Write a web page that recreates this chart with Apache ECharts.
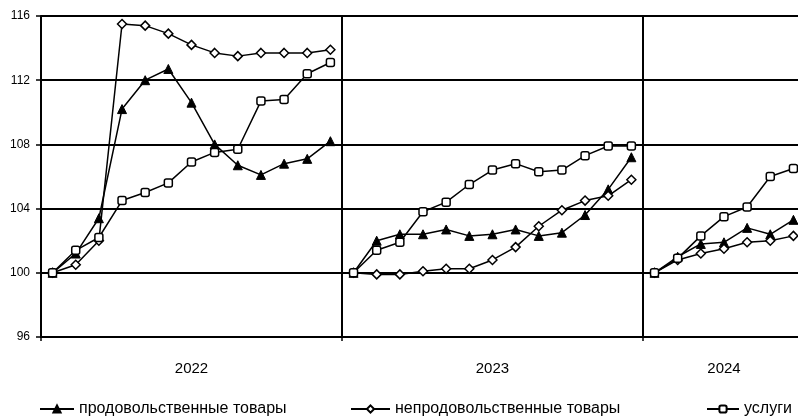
<!DOCTYPE html>
<html>
<head>
<meta charset="utf-8">
<script src="https://cdn.jsdelivr.net/npm/echarts@6/dist/echarts.min.js"></script>
<style>
html,body{margin:0;padding:0;background:#fff;}
#chart{width:798px;height:417px;}
</style>
</head>
<body>
<div id="chart"></div>
<script>
// Years and number of points per year section (December of previous year = 100, then months)
const years = ['2022', '2023', '2024'];
const pointsPerYear = [13, 13, 7];

// продовольственные товары
const food2022 = [100, 101.2, 103.4, 110.2, 112.0, 112.7, 110.6, 108.0, 106.7, 106.1, 106.8, 107.1, 108.2];
const food2023 = [100, 102.0, 102.4, 102.4, 102.7, 102.3, 102.4, 102.7, 102.3, 102.5, 103.6, 105.2, 107.2];
const food2024 = [100, 101.0, 101.8, 101.9, 102.8, 102.4, 103.3];

// непродовольственные товары
const nonfood2022 = [100, 100.5, 102.0, 115.5, 115.4, 114.9, 114.2, 113.7, 113.5, 113.7, 113.7, 113.7, 113.9];
const nonfood2023 = [100, 99.9, 99.9, 100.1, 100.25, 100.25, 100.8, 101.6, 102.9, 103.9, 104.5, 104.8, 105.8];
const nonfood2024 = [100, 100.8, 101.2, 101.5, 101.9, 102.0, 102.3];

// услуги
const serv2022 = [100, 101.4, 102.2, 104.5, 105.0, 105.6, 106.9, 107.5, 107.7, 110.7, 110.8, 112.4, 113.1];
const serv2023 = [100, 101.4, 101.9, 103.8, 104.4, 105.5, 106.4, 106.8, 106.3, 106.4, 107.3, 107.9, 107.9];
const serv2024 = [100, 100.9, 102.3, 103.5, 104.1, 106.0, 106.5];

const seriesNames = ['продовольственные товары', 'непродовольственные товары', 'услуги'];
const yTicks = [96, 100, 104, 108, 112, 116];

// build categories
const categories = [];
const sectionStart = [];
const sectionCenter = [];
years.forEach((y, k) => {
  sectionStart.push(categories.length);
  sectionCenter.push(categories.length + Math.floor(pointsPerYear[k] / 2));
  for (let m = 0; m < pointsPerYear[k]; m++) categories.push(y + ':' + m);
});
const total = categories.length;

function place(values, k) {
  const arr = new Array(total).fill(null);
  values.forEach((v, i) => { arr[sectionStart[k] + i] = v; });
  return arr;
}

const styles = [
  { symbol: 'triangle', symbolSize: 9, itemStyle: { color: '#000', borderColor: '#000', borderWidth: 1 } },
  { symbol: 'diamond', symbolSize: 9, itemStyle: { color: '#fff', borderColor: '#000', borderWidth: 1.5 } },
  { symbol: 'roundRect', symbolSize: 8, itemStyle: { color: '#fff', borderColor: '#000', borderWidth: 1.5 } }
];
const dataSets = [
  [food2022, food2023, food2024],
  [nonfood2022, nonfood2023, nonfood2024],
  [serv2022, serv2023, serv2024]
];

const series = [];
dataSets.forEach((sets, s) => {
  sets.forEach((vals, k) => {
    series.push({
      name: seriesNames[s],
      type: 'line',
      data: place(vals, k),
      symbol: styles[s].symbol,
      symbolSize: styles[s].symbolSize,
      showAllSymbol: true,
      connectNulls: false,
      lineStyle: { color: '#000', width: 1.5 },
      itemStyle: styles[s].itemStyle,
      emphasis: { disabled: true }
    });
  });
});

const font = 'Liberation Sans, Arial, sans-serif';
const legendBase = {
  top: 401,
  itemHeight: 9,
  itemGap: 0,
  padding: 0,
  textStyle: { fontFamily: font, fontSize: 16, color: '#000' },
  selectedMode: false
};

const chart = echarts.init(document.getElementById('chart'), null, { renderer: 'canvas' });
chart.setOption({
  animation: false,
  backgroundColor: '#fff',
  textStyle: { fontFamily: font },
  grid: { left: 41, top: 16, width: 764, height: 321, containLabel: false, outerBoundsMode: 'none' },
  legend: [
    Object.assign({}, legendBase, { left: 39, itemWidth: 34, data: [seriesNames[0]] }),
    Object.assign({}, legendBase, { left: 350, itemWidth: 39, data: [seriesNames[1]] }),
    Object.assign({}, legendBase, { left: 706, itemWidth: 32, data: [seriesNames[2]] })
  ],
  xAxis: {
    type: 'category',
    data: categories,
    boundaryGap: true,
    axisLine: { lineStyle: { color: '#000', width: 2 } },
    axisTick: {
      show: true,
      length: 4,
      interval: (i) => sectionStart.indexOf(i) >= 0,
      lineStyle: { color: '#000', width: 1.5 }
    },
    axisLabel: {
      interval: (i) => sectionCenter.indexOf(i) >= 0,
      formatter: (v) => v.split(':')[0],
      margin: 24,
      color: '#000',
      fontFamily: font,
      fontSize: 15
    },
    splitLine: {
      show: true,
      interval: (i) => sectionStart.indexOf(i) > 0,
      lineStyle: { color: '#000', width: 2 }
    }
  },
  yAxis: {
    type: 'value',
    min: yTicks[0],
    max: yTicks[yTicks.length - 1],
    interval: 4,
    axisLine: { show: true, lineStyle: { color: '#000', width: 2 } },
    axisTick: { show: true, length: 5, lineStyle: { color: '#000', width: 1.5 } },
    axisLabel: { color: '#000', fontFamily: font, fontSize: 12, margin: 11 },
    splitLine: { show: true, lineStyle: { color: '#000', width: 2 } }
  },
  series: series
});
</script>
</body>
</html>
